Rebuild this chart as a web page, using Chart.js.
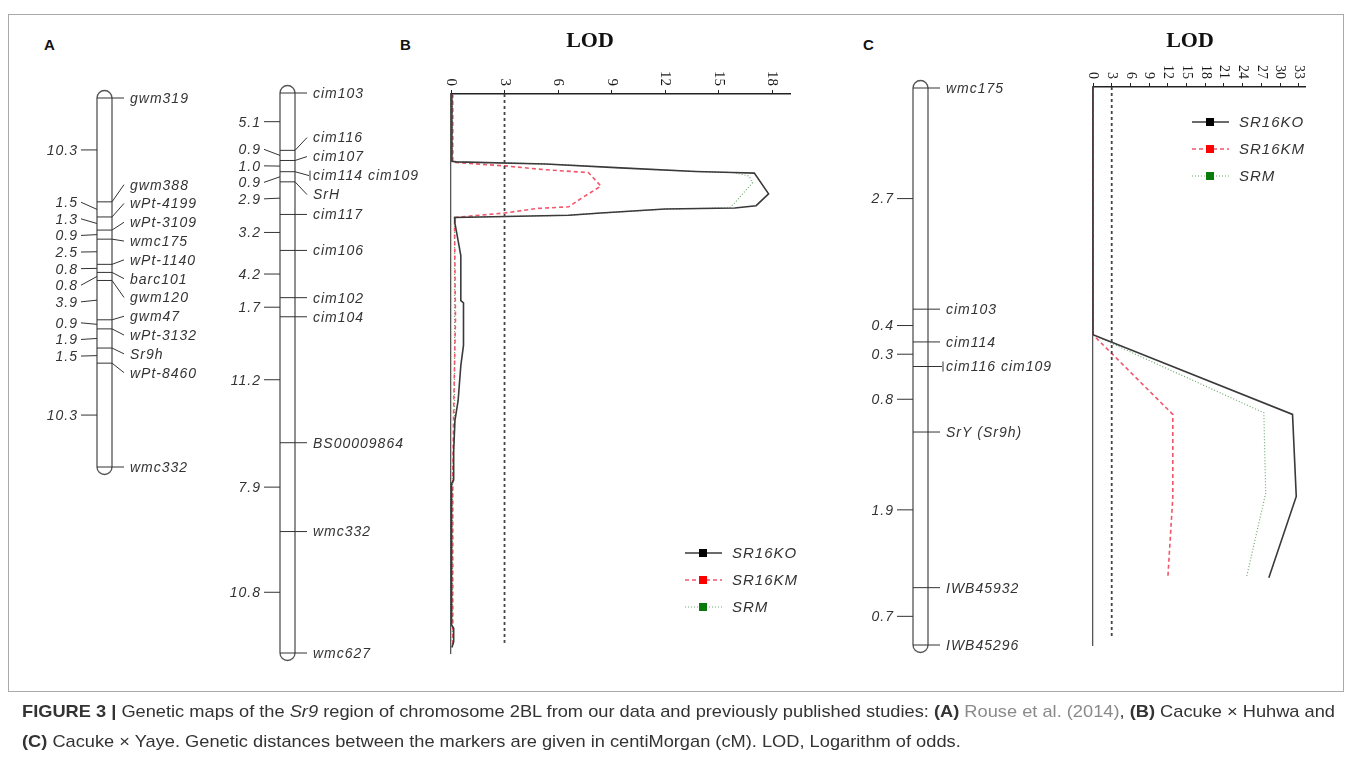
<!DOCTYPE html>
<html>
<head>
<meta charset="utf-8">
<script src="https://cdn.jsdelivr.net/npm/chart.js@4.4.1/dist/chart.umd.min.js"></script>
<style>
  body { margin: 0; background: #fff; width: 1357px; height: 762px; overflow: hidden; position: relative; }
  canvas { position: absolute; left: 0; top: 0; }
  #frame { position: absolute; left: 8px; top: 14px; width: 1334px; height: 676px; border: 1px solid #aaa; }
  .letter { position: absolute; top: 36px; font: bold 15px "Liberation Sans", Arial, sans-serif; color: #111; }
  .cap { position: absolute; left: 22px; font-family: "Liberation Sans", Arial, sans-serif; font-size: 17px; color: #333;
         white-space: nowrap; transform-origin: 0 0; }
  .cap .lnk { color: #8a8a8a; }
</style>
</head>
<body>
<div id="frame"></div>
<div class="letter" style="left:44px">A</div>
<div class="letter" style="left:400px">B</div>
<div class="letter" style="left:863px">C</div>
<canvas id="chromA" width="1357" height="762"></canvas>
<canvas id="chromB" width="1357" height="762"></canvas>
<canvas id="lodB" width="1357" height="762"></canvas>
<canvas id="chromC" width="1357" height="762"></canvas>
<canvas id="lodC" width="1357" height="762"></canvas>
<div class="cap" id="cap1" style="top:702px"><b>FIGURE 3 |</b> Genetic maps of the <i>Sr9</i> region of chromosome 2BL from our data and previously published studies: <b>(A)</b> <span class="lnk">Rouse et al. (2014)</span>, <b>(B)</b> Cacuke × Huhwa and</div>
<div class="cap" id="cap2" style="top:732px"><b>(C)</b> Cacuke × Yaye. Genetic distances between the markers are given in centiMorgan (cM). LOD, Logarithm of odds.</div>
<script>
var W = 1357, H = 762;

// genetic maps: marker order and distances (cM) between neighbours
var markersA = ['gwm319', 'gwm388', 'wPt-4199', 'wPt-3109', 'wmc175', 'wPt-1140', 'barc101', 'gwm120', 'gwm47', 'wPt-3132', 'Sr9h', 'wPt-8460', 'wmc332'];
var distA = [10.3, 1.5, 1.3, 0.9, 2.5, 0.8, 0.8, 3.9, 0.9, 1.9, 1.5, 10.3];
var markersB = ['cim103', 'cim116', 'cim107', ['cim114', 'cim109'], 'SrH', 'cim117', 'cim106', 'cim102', 'cim104', 'BS00009864', 'wmc332', 'wmc627'];
var distB = [5.1, 0.9, 1.0, 0.9, 2.9, 3.2, 4.2, 1.7, 11.2, 7.9, 10.8];
var markersC = ['wmc175', 'cim103', 'cim114', ['cim116', 'cim109'], 'SrY (Sr9h)', 'IWB45932', 'IWB45296'];
var distC = [2.7, 0.4, 0.3, 0.8, 1.9, 0.7];

// LOD profiles, [cM, LOD]
var seriesNames = ['SR16KO', 'SR16KM', 'SRM'];
var lodTicksB = [0, 3, 6, 9, 12, 15, 18];
var lodTicksC = [0, 3, 6, 9, 12, 15, 18, 21, 24, 27, 30, 33];
var threshold = 3;
var koB = [[0, 0.05], [6.0, 0.05], [6.05, 0.3], [6.23, 5.3], [6.58, 9.5], [6.9, 13.7], [7.0, 15.8], [7.05, 17.0], [8.9, 17.8], [9.95, 17.1],
  [10.15, 15.9], [10.25, 12.0], [10.6, 8.4], [10.8, 6.6], [11.0, 0.2], [11.5, 0.22], [12.9, 0.38], [14.4, 0.55], [18.4, 0.55], [18.6, 0.7],
  [22.4, 0.7], [24.2, 0.55], [27.3, 0.4], [29.1, 0.22], [31.8, 0.15], [34.4, 0.15], [34.7, 0.03], [47.3, 0.03], [47.6, 0.15], [48.8, 0.15], [49.3, 0.05]];
var kmB = [[0, 0.1], [6.0, 0.1], [6.1, 0.2], [6.4, 3.0], [6.75, 5.3], [7.0, 7.7], [8.2, 8.4], [9.3, 7.3], [10.05, 6.6], [10.2, 4.8],
  [10.6, 3.0], [11.0, 0.2], [12, 0.2], [20, 0.25], [28, 0.15], [34, 0.1], [49.3, 0.1]];
var srmB = [[0, 0.08], [6.0, 0.08], [6.05, 0.3], [6.23, 5.3], [6.58, 9.5], [6.9, 13.7], [7.0, 15.8], [7.3, 16.7], [7.9, 16.9], [9.7, 15.9],
  [10.15, 15.6], [10.25, 12.0], [10.6, 8.4], [10.8, 6.6], [11.0, 0.2], [13, 0.2], [30, 0.2], [34, 0.08], [49.3, 0.08]];
var koC = [[0, 0], [3.02, 0], [3.99, 32.0], [4.99, 32.6], [5.98, 28.2]];
var kmC = [[0, 0], [3.02, 0], [3.99, 12.8], [5.0, 12.8], [5.98, 12.0]];
var srmC = [[0, 0], [3.02, 0], [3.97, 27.4], [4.95, 27.7], [5.98, 24.6]];

var lineStyles = [
  { color: '#3a3a3a', dash: [], width: 1.6, mark: '#000' },
  { color: '#f2566a', dash: [4, 3], width: 1.6, mark: '#f00' },
  { color: '#6fa86f', dash: [1, 2], width: 1.2, mark: '#0a7a0a' }
];

function spread(want, gap) {
  var blocks = [];
  want.forEach(function (w, i) {
    blocks.push({ n: 1, sum: w });
    while (blocks.length > 1) {
      var b = blocks[blocks.length - 1], a = blocks[blocks.length - 2];
      var aTop = a.sum / a.n - (a.n - 1) * gap / 2;
      var bTop = b.sum / b.n - (b.n - 1) * gap / 2;
      if (aTop + a.n * gap <= bTop) break;
      a.n += b.n; a.sum += b.sum; blocks.pop();
    }
  });
  var out = [];
  blocks.forEach(function (b) {
    var top = b.sum / b.n - (b.n - 1) * gap / 2;
    for (var k = 0; k < b.n; k++) out.push(top + k * gap);
  });
  return out;
}

function chromChart(id, markers, dist, box) {
  var pos = [0];
  dist.forEach(function (d) { pos.push(+(pos[pos.length - 1] + d).toFixed(2)); });
  var total = pos[pos.length - 1];

  var decor = {
    id: 'chromDecor',
    beforeDatasetsDraw: function (chart) {
      var ctx = chart.ctx, a = chart.chartArea, ys = chart.scales.y;
      var r = (a.right - a.left) / 2, cx = (a.left + a.right) / 2;
      var y0 = ys.getPixelForValue(0), y1 = ys.getPixelForValue(total);
      ctx.save();
      ctx.strokeStyle = '#555';
      ctx.lineWidth = 1.3;
      ctx.beginPath();
      ctx.moveTo(a.left, y0);
      ctx.arc(cx, y0, r, Math.PI, 0);
      ctx.lineTo(a.right, y1);
      ctx.arc(cx, y1, r, 0, Math.PI);
      ctx.closePath();
      ctx.stroke();
      ctx.restore();
    },
    afterDatasetsDraw: function (chart) {
      var ctx = chart.ctx, a = chart.chartArea, ys = chart.scales.y;
      var yPix = pos.map(function (p) { return ys.getPixelForValue(p); });
      var labY = spread(yPix, box.markerGap);
      ctx.save();
      ctx.strokeStyle = '#333';
      ctx.fillStyle = '#333';
      ctx.lineWidth = 1;
      ctx.font = 'italic 14px "Liberation Sans", Arial, sans-serif';
      ctx.letterSpacing = '1px';
      ctx.textBaseline = 'middle';
      markers.forEach(function (m, i) {
        var grouped = Array.isArray(m);
        ctx.beginPath();
        ctx.moveTo(a.right, yPix[i]);
        ctx.lineTo(a.right + (grouped ? 14 : 12), labY[i]);
        ctx.stroke();
        if (grouped) {
          ctx.beginPath();
          ctx.moveTo(a.right + 15, labY[i] - 5);
          ctx.lineTo(a.right + 15, labY[i] + 5);
          ctx.stroke();
        }
        ctx.textAlign = 'left';
        ctx.fillText(grouped ? m.join(' ') : m, a.right + 18, labY[i] + 1);
      });
      var mids = dist.map(function (d, i) { return (yPix[i] + yPix[i + 1]) / 2; });
      var dY = spread(mids, box.distGap);
      ctx.textAlign = 'right';
      dist.forEach(function (d, i) {
        ctx.beginPath();
        ctx.moveTo(a.left - 16, dY[i]);
        ctx.lineTo(a.left, mids[i]);
        ctx.stroke();
        ctx.fillText(d.toFixed(1), a.left - 19, dY[i] + 1);
      });
      ctx.restore();
    }
  };

  return new Chart(document.getElementById(id), {
    type: 'scatter',
    data: {
      datasets: [{
        data: pos.map(function (p) { return { x: 0.5, y: p }; }),
        pointStyle: 'line',
        pointRadius: (box.right - box.left) / 2,
        pointBorderColor: '#333',
        pointBorderWidth: 1,
        clip: false
      }]
    },
    options: {
      responsive: false,
      animation: false,
      events: [],
      layout: { padding: { left: box.left, right: W - box.right, top: box.top, bottom: H - box.bottom } },
      plugins: { legend: { display: false }, tooltip: { enabled: false } },
      scales: {
        x: { type: 'linear', min: 0, max: 1, display: false },
        y: { type: 'linear', min: 0, max: total, reverse: true, display: false }
      }
    },
    plugins: [decor]
  });
}

function lodChart(id, series, ticks, box) {
  var sets = series.map(function (s, i) {
    var st = lineStyles[i];
    return {
      label: seriesNames[i],
      data: s.map(function (p) { return { x: p[1], y: p[0] }; }),
      showLine: true,
      pointRadius: 0,
      borderColor: st.color,
      borderDash: st.dash,
      borderWidth: st.width,
      clip: false
    };
  });
  sets.unshift({
    label: 'threshold',
    data: [{ x: threshold, y: 0 }, { x: threshold, y: box.thrEnd }],
    showLine: true,
    pointRadius: 0,
    borderColor: '#444',
    borderDash: [3, 3],
    borderWidth: 1.8
  });

  var decor = {
    id: 'lodDecor',
    afterDraw: function (chart) {
      var ctx = chart.ctx, xs = chart.scales.x, top = chart.chartArea.top;
      ctx.save();
      ctx.fillStyle = '#1a1a1a';
      ctx.font = box.tickFont + 'px "Liberation Serif", "Times New Roman", serif';
      ctx.textAlign = 'right';
      ctx.textBaseline = 'middle';
      ticks.forEach(function (v) {
        var px = xs.getPixelForValue(v);
        ctx.save();
        ctx.translate(px, top - 8);
        ctx.rotate(Math.PI / 2);
        ctx.fillText(String(v), 0, 0);
        ctx.restore();
      });
      ctx.font = 'bold 22px "Liberation Serif", "Times New Roman", serif';
      ctx.textAlign = 'center';
      ctx.textBaseline = 'alphabetic';
      ctx.fillStyle = '#111';
      ctx.fillText('LOD', box.titleX, 47);

      var lg = box.legend;
      ctx.font = 'italic 15px "Liberation Sans", Arial, sans-serif';
      ctx.letterSpacing = '1px';
      ctx.textAlign = 'left';
      ctx.textBaseline = 'middle';
      seriesNames.forEach(function (name, i) {
        var st = lineStyles[i], y = lg.y + i * lg.dy;
        ctx.strokeStyle = st.color;
        ctx.lineWidth = st.width;
        ctx.setLineDash(st.dash);
        ctx.beginPath();
        ctx.moveTo(lg.x, y);
        ctx.lineTo(lg.x + 37, y);
        ctx.stroke();
        ctx.setLineDash([]);
        ctx.fillStyle = st.mark;
        ctx.fillRect(lg.x + 14, y - 4, 8, 8);
        ctx.fillStyle = '#333';
        ctx.fillText(name, lg.x + 47, y + 1);
      });
      ctx.restore();
    }
  };

  return new Chart(document.getElementById(id), {
    type: 'scatter',
    data: { datasets: sets },
    options: {
      responsive: false,
      animation: false,
      events: [],
      layout: { padding: { left: box.left, right: W - box.right, top: box.axisY - 4, bottom: H - box.bottom } },
      plugins: { legend: { display: false }, tooltip: { enabled: false } },
      scales: {
        x: {
          type: 'linear', position: 'top', min: 0, max: box.xmax,
          afterBuildTicks: function (s) { s.ticks = ticks.map(function (v) { return { value: v }; }); },
          ticks: { display: false },
          grid: { display: true, drawOnChartArea: false, drawTicks: true, tickLength: 4, color: '#222', lineWidth: 1 },
          border: { display: true, color: '#222', width: 1.5 }
        },
        y: {
          type: 'linear', min: 0, max: box.ymax, reverse: true,
          ticks: { display: false },
          grid: { display: false },
          border: { display: true, color: '#555', width: 1.3 }
        }
      }
    },
    plugins: [decor]
  });
}

chromChart('chromA', markersA, distA, { left: 97, right: 112, top: 98, bottom: 467, markerGap: 18.8, distGap: 16.6 });
chromChart('chromB', markersB, distB, { left: 280, right: 295, top: 93, bottom: 653, markerGap: 19, distGap: 16.5 });
chromChart('chromC', markersC, distC, { left: 913, right: 928, top: 88, bottom: 645, markerGap: 19, distGap: 16.5 });

lodChart('lodB', [koB, kmB, srmB], lodTicksB, {
  left: 443, right: 790, axisY: 94, bottom: 653, xmax: 19, ymax: 49.8, thrEnd: 48.9,
  titleX: 590, tickFont: 15, legend: { x: 685, y: 553, dy: 27 }
});
lodChart('lodC', [koC, kmC, srmC], lodTicksC, {
  left: 1085, right: 1305, axisY: 87, bottom: 645, xmax: 34, ymax: 6.8, thrEnd: 6.7,
  titleX: 1190, tickFont: 14, legend: { x: 1192, y: 122, dy: 27 }
});

// squeeze caption to the width of the original lines
var c1 = document.getElementById('cap1'), c2 = document.getElementById('cap2');
var k = 1313 / c1.getBoundingClientRect().width;
c1.style.transform = 'scaleX(' + k + ')';
c2.style.transform = 'scaleX(' + k + ')';
</script>
</body>
</html>
